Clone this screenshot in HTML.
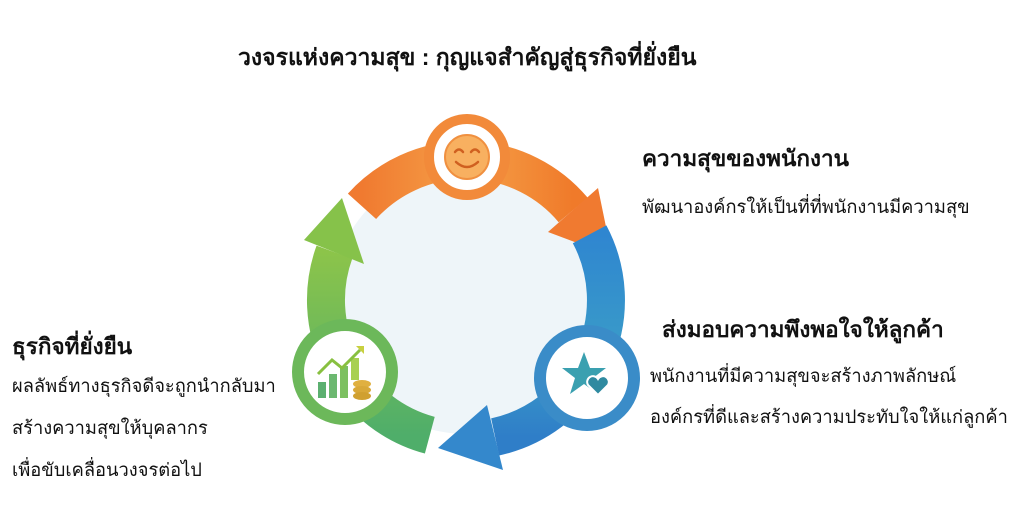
<!DOCTYPE html>
<html><head><meta charset="utf-8"><style>
body{margin:0;width:1015px;height:528px;background:#fff;overflow:hidden;position:relative;font-family:"Liberation Sans","Noto Sans CJK SC",sans-serif;color:#111}
.t{position:absolute;white-space:nowrap}
.b{font-weight:bold;font-size:22.5px}
.n{font-size:18.3px}
</style></head><body>
<svg width="1015" height="528" style="position:absolute;left:0;top:0">
<defs>
<linearGradient id="go" x1="0" y1="0" x2="1" y2="0"><stop offset="0" stop-color="#f07a30"/><stop offset="0.5" stop-color="#f5a048"/><stop offset="1" stop-color="#f07a2a"/></linearGradient>
<linearGradient id="gb" x1="0" y1="0" x2="0" y2="1"><stop offset="0" stop-color="#2f86d0"/><stop offset="0.6" stop-color="#3a9cc8"/><stop offset="1" stop-color="#2f7ec8"/></linearGradient>
<linearGradient id="gg" x1="0" y1="1" x2="0" y2="0"><stop offset="0" stop-color="#4fae6a"/><stop offset="1" stop-color="#8cc44a"/></linearGradient>
</defs>
<circle cx="466" cy="300" r="134" fill="#eef5f9"/>
<path d="M362 206.3 A140 140 0 0 1 573.2 210" fill="none" stroke="url(#go)" stroke-width="38"/>
<polygon points="548,232 598,188 612,256" fill="#f07a30"/>
<path d="M589.6 234.3 A140 140 0 0 1 495.1 436.9" fill="none" stroke="url(#gb)" stroke-width="38"/>
<polygon points="487,405 503,470 438,448" fill="#3488cc"/>
<path d="M429.8 435.2 A140 140 0 0 1 334.4 252.1" fill="none" stroke="url(#gg)" stroke-width="38"/>
<polygon points="364,264 304,240 342,198" fill="#86c24a"/>
<circle cx="467" cy="157" r="38" fill="#fff" stroke="#f28a3a" stroke-width="10"/>
<circle cx="467" cy="157" r="22" fill="#f8b060" stroke="#f09040" stroke-width="2"/>
<path d="M455 152 q4 -5 8 0 M471 152 q4 -5 8 0 M456 162 q11 10 22 0" fill="none" stroke="#d06020" stroke-width="2.5" stroke-linecap="round"/>
<circle cx="345" cy="372" r="47" fill="#fff" stroke="#6cb85a" stroke-width="12"/>
<rect x="318" y="382" width="8" height="16" fill="#5cb070"/><rect x="329" y="374" width="8" height="24" fill="#6cb870"/><rect x="340" y="366" width="8" height="32" fill="#7cc060"/><rect x="351" y="358" width="8" height="22" fill="#a8d050"/>
<polyline points="318,374 332,360 342,368 360,350" fill="none" stroke="#88c040" stroke-width="3"/><polygon points="356,346 364,346 364,354" fill="#c8d040"/>
<ellipse cx="362" cy="384" rx="9" ry="4" fill="#e0b040"/><ellipse cx="362" cy="390" rx="9" ry="4" fill="#d8a838"/><ellipse cx="362" cy="396" rx="9" ry="4" fill="#d0a030"/>
<circle cx="587" cy="378" r="47" fill="#fff" stroke="#3a8cc8" stroke-width="12"/>
<polygon points="584,352 590,368 606,368 593,378 598,394 584,384 570,394 575,378 562,368 578,368" fill="#3aa0b0"/>
<path d="M598 395 l-10 -10 a5 5 0 0 1 10 -6 a5 5 0 0 1 10 6 z" fill="#2f8aa0" stroke="#fff" stroke-width="2"/>
</svg>
<div class="t b" style="left:238px;top:40px;font-size:23px">วงจรแห่งความสุข : กุญแจสำคัญสู่ธุรกิจที่ยั่งยืน</div>
<div class="t b" style="left:642px;top:140px">ความสุขของพนักงาน</div>
<div class="t n" style="left:642px;top:193px">พัฒนาองค์กรให้เป็นที่ที่พนักงานมีความสุข</div>
<div class="t b" style="left:662px;top:311px">ส่งมอบความพึงพอใจให้ลูกค้า</div>
<div class="t n" style="left:650px;top:362px">พนักงานที่มีความสุขจะสร้างภาพลักษณ์</div>
<div class="t n" style="left:650px;top:403px">องค์กรที่ดีและสร้างความประทับใจให้แก่ลูกค้า</div>
<div class="t b" style="left:12px;top:328px">ธุรกิจที่ยั่งยืน</div>
<div class="t n" style="left:12px;top:372px">ผลลัพธ์ทางธุรกิจดีจะถูกนำกลับมา</div>
<div class="t n" style="left:12px;top:414px">สร้างความสุขให้บุคลากร</div>
<div class="t n" style="left:12px;top:456px">เพื่อขับเคลื่อนวงจรต่อไป</div>
</body></html>
